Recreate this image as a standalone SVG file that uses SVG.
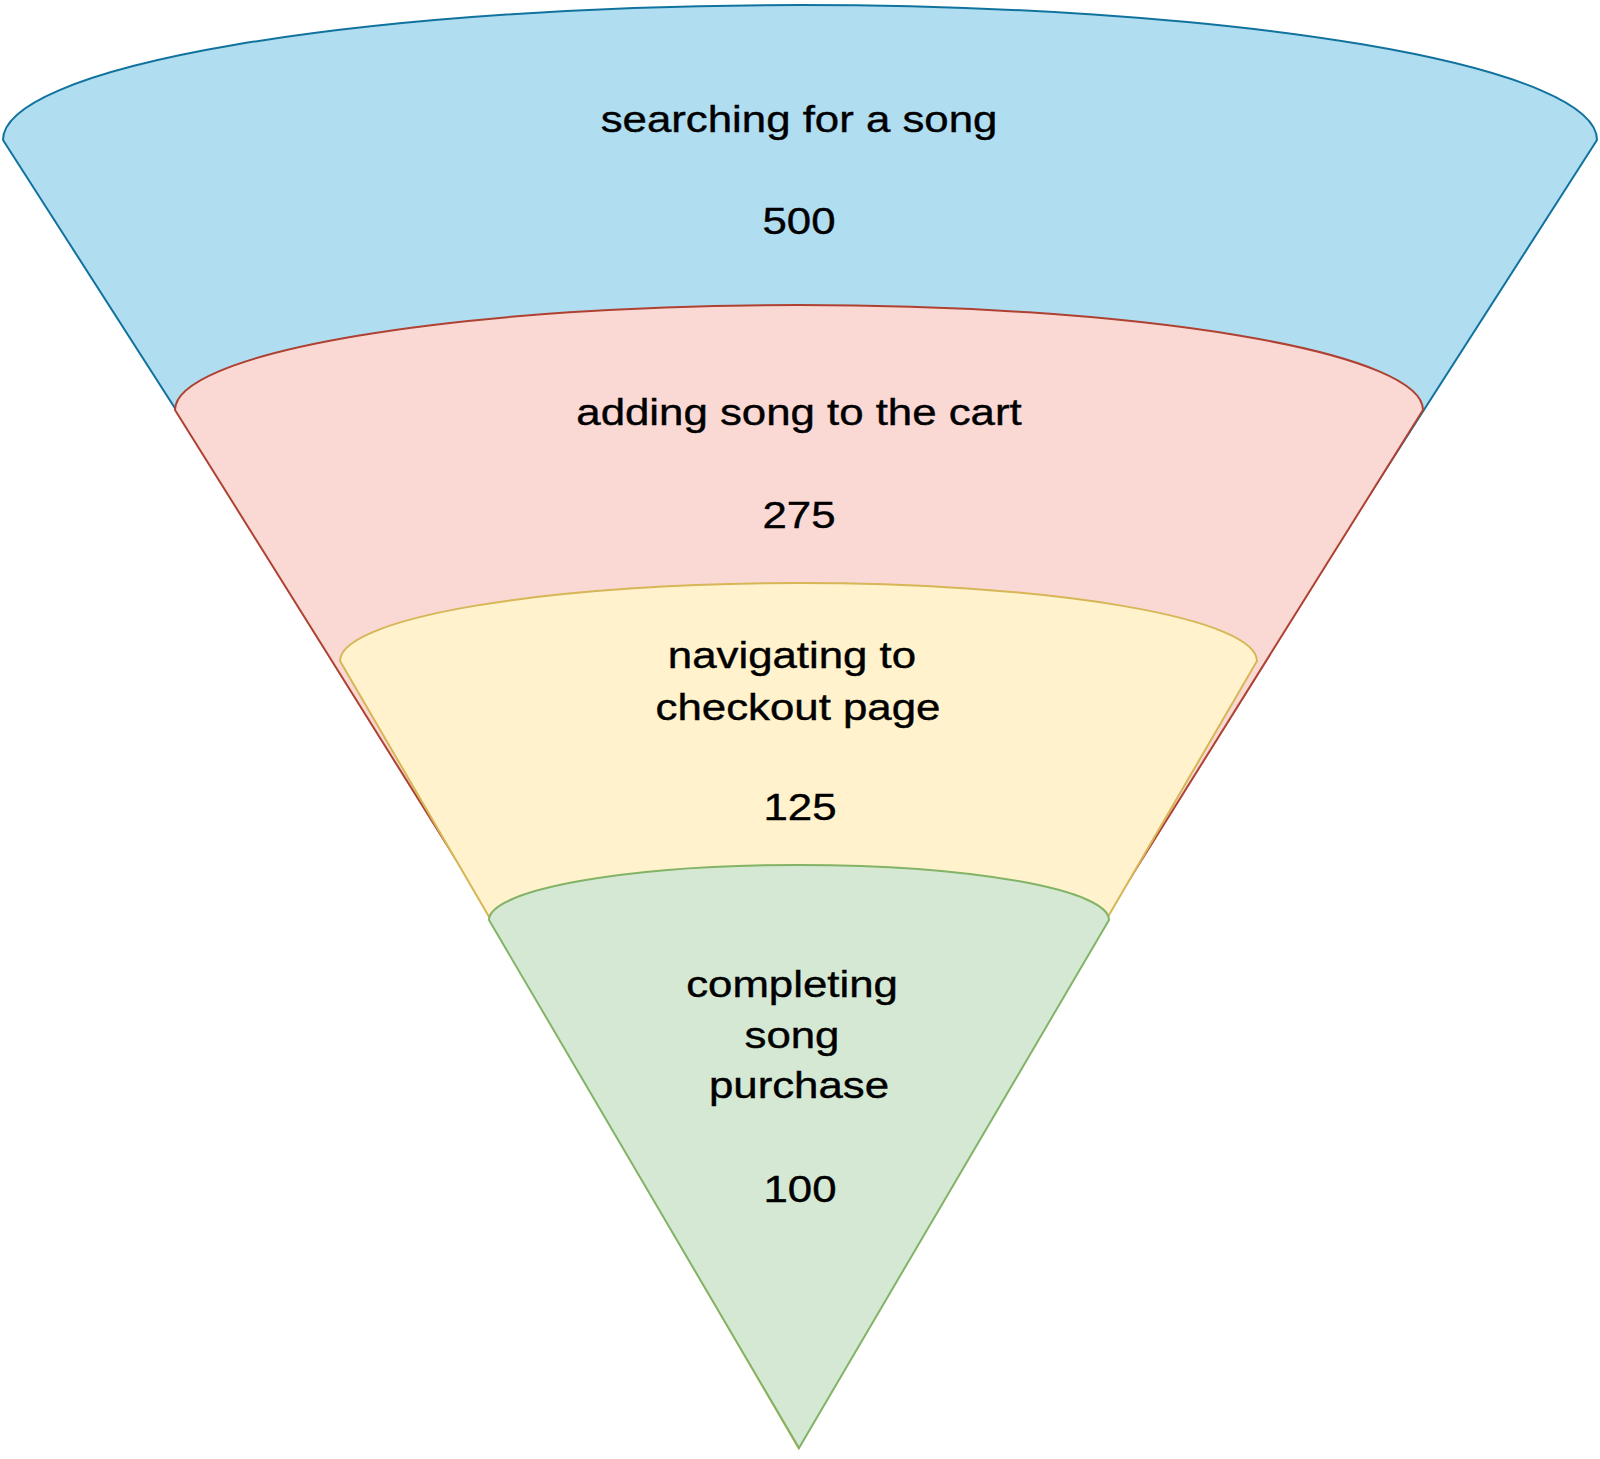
<svg xmlns="http://www.w3.org/2000/svg" width="1600" height="1459" viewBox="0 0 1600 1459">
  <style>
    .lbl { font-family: "Liberation Sans", Arial, Helvetica, sans-serif; font-size: 36.5px; fill: #000000; stroke: #000000; stroke-width: 0.4; text-anchor: middle; }
    .shape { stroke-width: 2; stroke-linejoin: miter; }
  </style>
  <rect x="0" y="0" width="1600" height="1459" fill="#ffffff"/>
  <g id="connectors"></g>
  <g id="stage-search">
    <path class="shape" d="M 3,140 A 797,135 0 0 1 1597,140 L 800,1383 Z" fill="#b1ddf0" stroke="#10739e"/>
    <text class="lbl" transform="translate(799,132) scale(1.2,1)">searching for a song</text>
    <text class="lbl" transform="translate(799,234) scale(1.2,1)">500</text>
  </g>
  <g id="stage-cart">
    <path class="shape" d="M 175,410 A 624,105 0 0 1 1423,410 L 799,1408 Z" fill="#fad9d5" stroke="#ae4132"/>
    <text class="lbl" transform="translate(799,425) scale(1.2,1)">adding song to the cart</text>
    <text class="lbl" transform="translate(799,528) scale(1.2,1)">275</text>
  </g>
  <g id="stage-checkout">
    <path class="shape" d="M 340,661 A 458.5,78 0 0 1 1257,661 L 798.5,1448 Z" fill="#fff2cc" stroke="#d6b656"/>
    <text class="lbl" transform="translate(792,668) scale(1.2,1)">navigating to</text>
    <text class="lbl" transform="translate(798,720) scale(1.2,1)">checkout page</text>
    <text class="lbl" transform="translate(800,820) scale(1.2,1)">125</text>
  </g>
  <g id="stage-purchase">
    <path class="shape" d="M 489,920 A 310,55 0 0 1 1109,920 L 799,1448 Z" fill="#d5e8d4" stroke="#82b366"/>
    <text class="lbl" transform="translate(792,997) scale(1.2,1)">completing</text>
    <text class="lbl" transform="translate(792,1048) scale(1.2,1)">song</text>
    <text class="lbl" transform="translate(799,1098) scale(1.2,1)">purchase</text>
    <text class="lbl" transform="translate(800,1202) scale(1.2,1)">100</text>
  </g>
</svg>
